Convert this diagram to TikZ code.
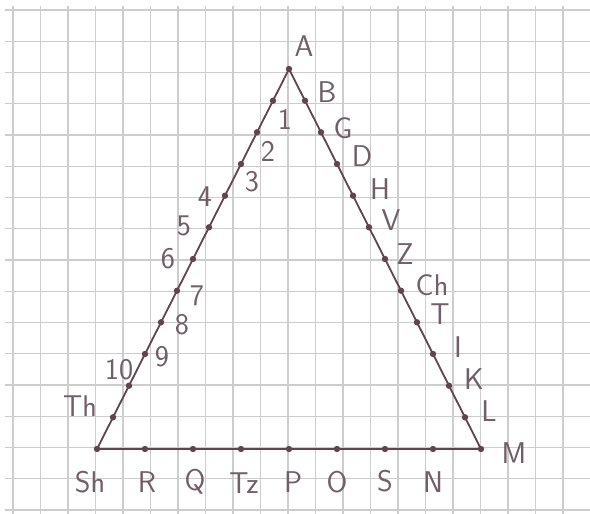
\documentclass[tikz,border=0pt]{standalone}
\usepackage{xcolor}
\definecolor{pencil}{RGB}{98,68,80}
\definecolor{penlabel}{RGB}{112,94,104}
\definecolor{paper}{RGB}{205,205,205}
\tikzset{
  lbl/.style={text=penlabel,font=\sffamily\fontsize{30}{32}\selectfont,inner sep=0pt},
  side/.style={draw=pencil,line width=1.8pt},
  gridline/.style={draw=paper,line width=1.3pt},
}

\begin{document}
\begin{tikzpicture}[x=1pt,y=-1pt]
				\useasboundingbox (0,0) rectangle (590,514);
				\fill[white] (0,0) rectangle (590,514);
				% squared paper
				\foreach \gx in {13,40.5,...,563} \draw[gridline] (\gx,6) -- (\gx,514);
				\foreach \gy in {10,41.25,...,511} \draw[gridline] (5,\gy) -- (590,\gy);
				% corners
				\coordinate (a) at (289,69);
				\coordinate (sh) at (97,449);
				\coordinate (m) at (481,449);
				% left side
				\coordinate (n1) at (273,100.7);
				\coordinate (n2) at (257,132.3);
				\coordinate (n3) at (241,164);
				\coordinate (n4) at (225,195.7);
				\coordinate (n5) at (209,227.3);
				\coordinate (n6) at (193,259);
				\coordinate (n7) at (177,290.7);
				\coordinate (n8) at (161,322.3);
				\coordinate (n9) at (145,354);
				\coordinate (n10) at (129,385.7);
				\coordinate (th) at (113,417.3);
				% right side
				\coordinate (b) at (305,100.7);
				\coordinate (g) at (321,132.3);
				\coordinate (d) at (337,164);
				\coordinate (h) at (353,195.7);
				\coordinate (v) at (369,227.3);
				\coordinate (z) at (385,259);
				\coordinate (ch) at (401,290.7);
				\coordinate (t) at (417,322.3);
				\coordinate (i) at (433,354);
				\coordinate (k) at (449,385.7);
				\coordinate (l) at (465,417.3);
				% base
				\coordinate (r) at (145,449);
				\coordinate (q) at (193,449);
				\coordinate (tz) at (241,449);
				\coordinate (p) at (289,449);
				\coordinate (o) at (337,449);
				\coordinate (s) at (385,449);
				\coordinate (nn) at (433,449);
				\draw[side] (a) -- (m) -- (sh) -- cycle;
				\foreach \pt in {a,sh,m,n1,n2,n3,n4,n5,n6,n7,n8,n9,n10,th,b,g,d,h,v,z,ch,t,i,k,l,r,q,tz,p,o,s,nn}
					\fill[pencil] (\pt) circle (3.2);
				% labels
				\node[lbl] (la) at (304,46) {A};
				\node[lbl] (lb) at (327,92) {B};
				\node[lbl] (lg) at (343,128) {G};
				\node[lbl] (ld) at (362,156) {D};
				\node[lbl] (lh) at (380,189) {H};
				\node[lbl] (lv) at (391,220) {V};
				\node[lbl] (lz) at (405,254) {Z};
				\node[lbl] (lch) at (432,285) {Ch};
				\node[lbl] (lt) at (440,314) {T};
				\node[lbl] (li) at (458,347) {I};
				\node[lbl] (lk) at (474,379) {K};
				\node[lbl] (ll) at (489,411) {L};
				\node[lbl] (lm) at (514,453) {M};
				\node[lbl] (l1) at (285,119) {1};
				\node[lbl] (l2) at (268,151) {2};
				\node[lbl] (l3) at (252,182) {3};
				\node[lbl] (l4) at (205,197) {4};
				\node[lbl] (l5) at (184,226) {5};
				\node[lbl] (l6) at (168,259) {6};
				\node[lbl] (l7) at (197,296) {7};
				\node[lbl] (l8) at (182,325) {8};
				\node[lbl] (l9) at (162,357) {9};
				\node[lbl] (l10) at (119,370) {10};
				\node[lbl] (lth) at (80,406) {Th};
				\node[lbl] (lsh) at (90,482) {Sh};
				\node[lbl] (lr) at (147,482) {R};
				\node[lbl] (lq) at (195,482) {Q};
				\node[lbl] (ltz) at (244,483) {Tz};
				\node[lbl] (lp) at (293,482) {P};
				\node[lbl] (lo) at (337,482) {O};
				\node[lbl] (ls) at (385,481) {S};
				\node[lbl] (lnn) at (433,482) {N};
\end{tikzpicture}
\end{document}
